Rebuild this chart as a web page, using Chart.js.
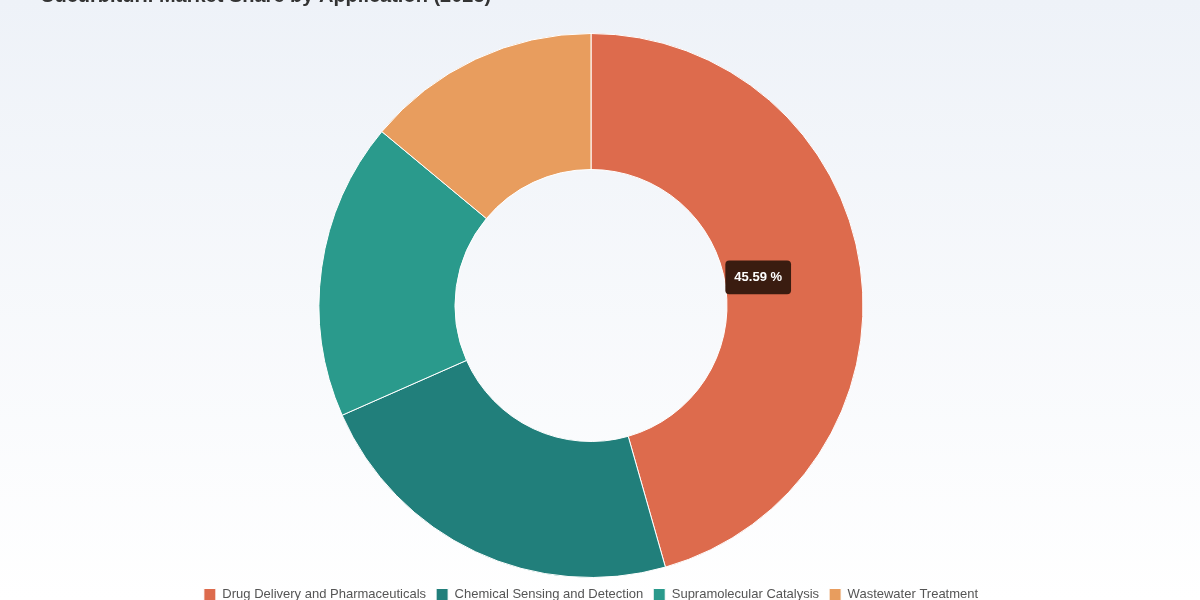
<!DOCTYPE html>
<html><head><meta charset="utf-8">
<script src="https://cdn.jsdelivr.net/npm/chart.js@4"></script>
<style>
html,body{margin:0;padding:0;width:1200px;height:600px;overflow:hidden;background:linear-gradient(#eef2f8,#ffffff);}
#wrap{position:absolute;left:0;top:-20px;width:1200px;height:631px;}
</style></head><body>
<div id="wrap"><canvas id="c"></canvas></div>
<script>
const categories=["Drug Delivery and Pharmaceuticals","Chemical Sensing and Detection","Supramolecular Catalysis","Wastewater Treatment"];
const shares=[45.59,22.8,17.65,13.96];
const colors=["#dd6b4d","#217f7b","#2a9a8c","#e89d5e"];
const titleText='Cucurbituril Market Share by Application (2025)';
const titlePlugin={id:'titleText',afterDraw(c){const x=c.ctx;x.save();x.font='bold 20px Helvetica, Arial, sans-serif';x.fillStyle='#333';x.textBaseline='middle';x.textAlign='left';x.fillText(titleText,40,16);x.restore();}};
const chart=new Chart(document.getElementById('c'),{
type:'doughnut',
data:{labels:categories,datasets:[{data:shares,backgroundColor:colors,borderColor:'#ffffff',borderWidth:1,hoverOffset:0}]},
plugins:[titlePlugin],
options:{responsive:true,maintainAspectRatio:false,animation:false,cutout:'50%',
layout:{padding:{top:53,bottom:0,left:0,right:18}},
plugins:{
title:{display:false},
legend:{position:'bottom',labels:{boxWidth:12,boxHeight:12,color:'#555',font:{family:'Helvetica, Arial, sans-serif',size:13},padding:10}},
tooltip:{backgroundColor:'#3a1c10',displayColors:false,titleFont:{size:0},bodyFont:{family:'Helvetica, Arial, sans-serif',size:13,weight:'bold'},padding:9,cornerRadius:4,caretSize:0,
callbacks:{title:()=>'',label:(ctx)=>ctx.parsed.toFixed(2)+' %'}}
}}});
chart.tooltip.setActiveElements([{datasetIndex:0,index:0}],{x:873,y:277});
chart.update();
</script></body></html>
